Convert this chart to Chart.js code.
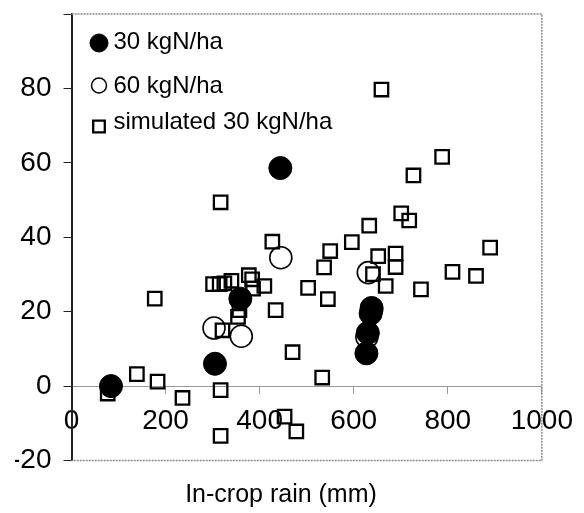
<!DOCTYPE html>
<html>
<head>
<meta charset="utf-8">
<script src="https://cdn.jsdelivr.net/npm/chart.js@4.4.0/dist/chart.umd.min.js"></script>
<style>
  html, body { margin: 0; padding: 0; background: #fff; }
  #chart { display: block; }
</style>
</head>
<body>
<canvas id="chart" width="584" height="513"></canvas>
<script>
// observed, 30 kgN/ha
const rain30 = [84, 305, 359, 444, 638, 636, 630, 627];
const value30 = [0, 6, 23.5, 58.6, 21, 19.5, 14.3, 8.8];

// observed, 60 kgN/ha
const rain60 = [303, 361, 445, 631, 638, 628];
const value60 = [15.6, 13.4, 34.5, 30.5, 20.5, 13.2];

// simulated, 30 kgN/ha
const rainSim = [77, 139, 183, 177, 236, 317, 317, 317, 301, 315, 325, 340, 321, 354, 357,
  377, 384, 386, 410, 427, 434, 453, 470, 478, 503, 533, 537, 545, 550, 596,
  633, 641, 652, 659, 668, 689, 689, 701, 718, 727, 743, 788, 810, 860, 890];
const valueSim = [-2, 3.2, 1.2, 23.5, -3.2, -1.1, -13.4, 49.4, 27.4, 27.4, 27.6, 28.3, 15, 18.6, 20.4,
  29.8, 28.7, 26.2, 26.9, 38.8, 20.4, -8.2, 9.1, -12.2, 26.4, 2.3, 31.9, 23.4, 36.3, 38.7,
  43.1, 30.1, 34.9, 79.7, 26.9, 35.6, 32, 46.4, 44.5, 56.6, 26, 61.6, 30.7, 29.6, 37.2];

const seriesNames = ['30 kgN/ha', '60 kgN/ha', 'simulated 30 kgN/ha'];
const xTitle = 'In-crop rain (mm)';

const FONT = '"Liberation Sans", Arial, Helvetica, sans-serif';

function toPoints(xs, ys) {
  return xs.map((x, i) => ({ x: x, y: ys[i] }));
}

// legend drawn inside the plot, top-left
const legendRadius = [9, 7.5, 8.2];
const legendMarkY = [43, 85.5, 126.5];
const legendTextY = [49, 93, 129];
const insideLegend = {
  id: 'insideLegend',
  afterDatasetsDraw(chart) {
    const ctx = chart.ctx;
    const left = chart.chartArea.left;
    ctx.save();
    chart.data.datasets.forEach((ds, i) => {
      ctx.fillStyle = ds.backgroundColor;
      ctx.strokeStyle = ds.borderColor;
      ctx.lineWidth = i === 1 ? 1.5 : ds.borderWidth;
      Chart.helpers.drawPoint(ctx, {
        pointStyle: ds.pointStyle,
        radius: legendRadius[i],
        rotation: 0,
        borderWidth: ctx.lineWidth
      }, left + 27.5, legendMarkY[i]);
      ctx.fillStyle = '#000';
      ctx.font = '24px ' + FONT;
      ctx.textBaseline = 'alphabetic';
      ctx.textAlign = 'left';
      ctx.fillText(ds.label, left + 42, legendTextY[i]);
    });
    ctx.restore();
  }
};

// grey dotted frame on top, right and bottom of the plot
const plotFrame = {
  id: 'plotFrame',
  beforeDatasetsDraw(chart) {
    const a = chart.chartArea;
    const ctx = chart.ctx;
    ctx.save();
    ctx.strokeStyle = '#8a8a8a';
    ctx.lineWidth = 1.5;
    ctx.setLineDash([2, 1]);
    ctx.beginPath();
    ctx.moveTo(a.left, a.top);
    ctx.lineTo(a.right, a.top);
    ctx.lineTo(a.right, a.bottom);
    ctx.lineTo(a.left, a.bottom);
    ctx.stroke();
    ctx.restore();
  }
};

new Chart(document.getElementById('chart'), {
  type: 'scatter',
  data: {
    datasets: [
      {
        label: seriesNames[0],
        data: toPoints(rain30, value30),
        pointStyle: 'circle',
        pointRadius: 11.5,
        backgroundColor: '#000',
        borderColor: '#000',
        borderWidth: 1
      },
      {
        label: seriesNames[1],
        data: toPoints(rain60, value60),
        pointStyle: 'circle',
        pointRadius: 11,
        backgroundColor: 'rgba(0,0,0,0)',
        borderColor: '#000',
        borderWidth: 1.6
      },
      {
        label: seriesNames[2],
        data: toPoints(rainSim, valueSim),
        pointStyle: 'rect',
        pointRadius: 9.5,
        backgroundColor: 'rgba(0,0,0,0)',
        borderColor: '#000',
        borderWidth: 2.3
      }
    ]
  },
  options: {
    responsive: false,
    devicePixelRatio: 1,
    animation: false,
    events: [],
    layout: { padding: { left: 15, right: 37, top: 14, bottom: 0 } },
    scales: {
      x: {
        type: 'linear',
        position: { y: 0 },
        min: 0,
        max: 1000,
        ticks: {
          stepSize: 200,
          autoSkip: false,
          maxRotation: 0,
          padding: 11,
          color: '#000',
          font: { size: 28, family: FONT },
          callback: v => String(v)
        },
        grid: { drawOnChartArea: false, tickLength: 7, color: '#999' },
        border: { color: '#999', width: 1 }
      },
      y: {
        min: -20,
        max: 100,
        afterFit: function (scale) {
          scale.width = 56.5;
          scale.paddingTop = 0;
          scale.paddingBottom = 0;
        },
        ticks: {
          stepSize: 20,
          padding: 12,
          color: '#000',
          font: { size: 28, family: FONT },
          callback: v => (v === 100 ? '' : String(v))
        },
        grid: { drawOnChartArea: false, tickLength: 8, color: '#222' },
        border: { color: '#222', width: 2 }
      }
    },
    plugins: {
      legend: { display: false },
      tooltip: { enabled: false },
      title: {
        display: true,
        position: 'bottom',
        text: xTitle,
        color: '#000',
        font: { size: 25, weight: 'normal', family: FONT },
        padding: { top: 20, bottom: 2.5 }
      }
    }
  },
  plugins: [plotFrame, insideLegend]
});
</script>
</body>
</html>
